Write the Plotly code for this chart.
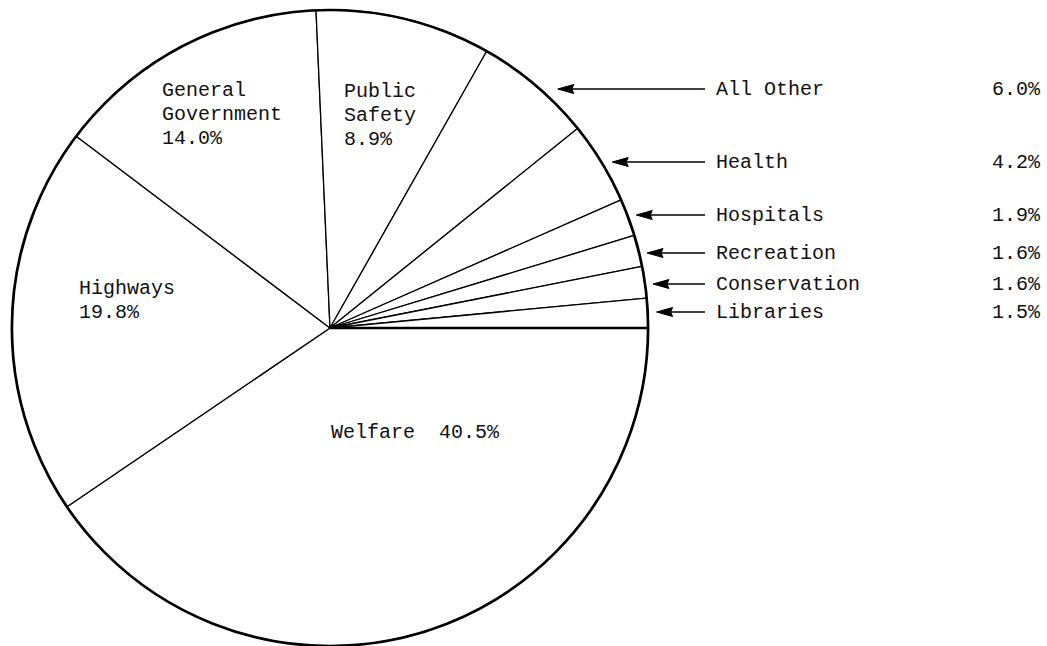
import math
import plotly.graph_objects as go

# ---- data ----
categories = ["Welfare", "Highways", "General Government", "Public Safety",
              "All Other", "Health", "Hospitals", "Recreation",
              "Conservation", "Libraries"]
shares = [40.5, 19.8, 14.0, 8.9, 6.0, 4.2, 1.9, 1.6, 1.6, 1.5]

inside_labels = [["Welfare  40.5%"], ["Highways", "19.8%"],
                 ["General", "Government", "14.0%"], ["Public", "Safety", "8.9%"]]
outside_names = ["All Other", "Health", "Hospitals", "Recreation",
                 "Conservation", "Libraries"]
outside_pcts = ["6.0%", "4.2%", "1.9%", "1.6%", "1.6%", "1.5%"]

# ---- layout geometry (pixels) ----
W, H = 1047, 646
CX, R = 330, 318
CY = H - R
LINE_H = 24
FONT = dict(family="Liberation Mono, Courier New, monospace", size=20, color="#111111")

fig = go.Figure()

dom = dict(x=[(CX - R) / W, (CX + R) / W], y=[0, 2 * R / H])
fig.add_trace(go.Pie(
    values=shares, labels=categories, sort=False, direction="clockwise",
    rotation=90, textinfo="none", showlegend=False,
    marker=dict(colors=["white"] * len(shares), line=dict(color="black", width=1.3)),
    domain=dom,
))
# thicker outer circle
fig.add_trace(go.Pie(
    values=[1], labels=["outline"], textinfo="none", showlegend=False,
    hoverinfo="skip",
    marker=dict(colors=["rgba(0,0,0,0)"], line=dict(color="black", width=2.7)),
    domain=dom,
))

# invisible pixel-coordinate axes for annotations
fig.update_layout(
    width=W, height=H, margin=dict(l=0, r=0, t=0, b=0),
    paper_bgcolor="white", plot_bgcolor="rgba(0,0,0,0)",
    xaxis=dict(range=[0, W], visible=False, fixedrange=True),
    yaxis=dict(range=[H, 0], visible=False, fixedrange=True),
)
fig.add_trace(go.Scatter(x=[0, W], y=[0, H], mode="markers",
                         marker=dict(opacity=0), hoverinfo="skip", showlegend=False))

# thicker starting radius (3 o'clock)
fig.add_shape(type="line", xref="x", yref="y", x0=CX, y0=CY, x1=CX + R, y1=CY,
              line=dict(color="black", width=2.4))

# inside labels (block centre positions)
inside_pos = [(329, 432), (77, 300), (160, 114), (342, 115)]
for lines, (x, yc) in zip(inside_labels, inside_pos):
    n = len(lines)
    for i, txt in enumerate(lines):
        y = yc + (i - (n - 1) / 2) * LINE_H
        fig.add_annotation(x=x, y=y, xref="x", yref="y", text=txt, showarrow=False,
                           xanchor="left", yanchor="middle", align="left", font=FONT)

# outside labels with arrows
label_y = [89, 162, 215, 253, 284, 312]
gaps = [18, 11, 9, 8, 8, 9]
for name, pct, y, g in zip(outside_names, outside_pcts, label_y, gaps):
    fig.add_annotation(x=714, y=y, xref="x", yref="y", text=name, showarrow=False,
                       xanchor="left", yanchor="middle", font=FONT)
    fig.add_annotation(x=1043, y=y, xref="x", yref="y", text=pct, showarrow=False,
                       xanchor="right", yanchor="middle", font=FONT)
    tip = CX + math.sqrt(max(R * R - (y - CY) ** 2, 0)) + g
    fig.add_shape(type="line", xref="x", yref="y", x0=tip + 13, y0=y, x1=705, y1=y,
                  line=dict(color="black", width=1.3))
    fig.add_shape(type="path", xref="x", yref="y",
                  path=f"M{tip},{y} L{tip + 16},{y - 4.5} L{tip + 14},{y} L{tip + 16},{y + 4.5} Z",
                  fillcolor="black", line=dict(color="black", width=1))

fig.write_html("out.html", config={"displayModeBar": False},
               post_script="document.body.style.margin='0';document.body.style.overflow='hidden';")
